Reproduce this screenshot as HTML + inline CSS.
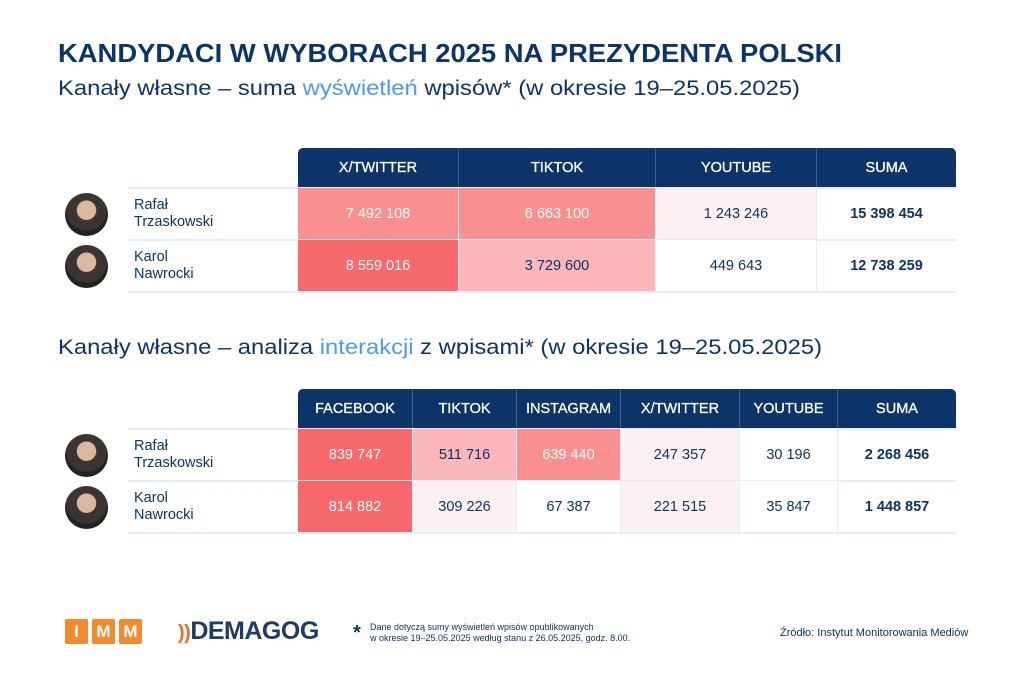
<!DOCTYPE html>
<html><head><meta charset="utf-8"><style>
body{margin:0;width:1024px;height:683px;background:#fff;font-family:"Liberation Sans",sans-serif;position:relative;overflow:hidden;color:#0d3468}
.abs{position:absolute}
.hdr{position:absolute;background:#0d3468;color:#fff;font-size:14.5px;font-weight:normal;display:flex;align-items:center;justify-content:center;box-sizing:border-box;border-right:1px solid #3d5f8f;-webkit-text-stroke:0.3px #fff}
.cell{position:absolute;display:flex;align-items:center;justify-content:center;font-size:14.5px;box-sizing:border-box;border-right:1px solid #e3ecf8}
.name{position:absolute;font-size:14.5px;line-height:17px;color:#0d3468}
.line{position:absolute;height:2px;background:#e3ecf8}
.av{position:absolute;width:43px;height:43px;border-radius:50%;background:radial-gradient(circle at 50% 40%,#d9b8a0 0 28%,#3b3430 30% 60%,#222 62%)}
</style></head><body>
<svg class="abs" style="left:0;top:0" width="1024" height="110">
<text x="58" y="62" font-size="26" font-weight="bold" fill="#0d3468" textLength="784" lengthAdjust="spacingAndGlyphs" font-family="Liberation Sans">KANDYDACI W WYBORACH 2025 NA PREZYDENTA POLSKI</text>
<text x="58" y="95" font-size="21" fill="#0d3468" textLength="742" lengthAdjust="spacingAndGlyphs" font-family="Liberation Sans">Kanały własne – suma <tspan fill="#4a9af2">wyświetleń</tspan> wpisów* (w okresie 19–25.05.2025)</text>
</svg>
<svg class="abs" style="left:0;top:325" width="1024" height="40">
<text x="58" y="29" font-size="21" fill="#0d3468" textLength="764" lengthAdjust="spacingAndGlyphs" font-family="Liberation Sans">Kanały własne – analiza <tspan fill="#4a9af2">interakcji</tspan> z wpisami* (w okresie 19–25.05.2025)</text>
</svg>
<div id="t1"></div>
<div id="t2"></div>

<div class="abs" style="left:65px;top:619px;display:flex;gap:4px">
<div style="width:23px;height:25px;background:#f28a2e;color:#fff;font-weight:bold;font-size:17px;text-align:center;line-height:25px;border-radius:2px">I</div>
<div style="width:23px;height:25px;background:#f28a2e;color:#fff;font-weight:bold;font-size:17px;text-align:center;line-height:25px;border-radius:2px">M</div>
<div style="width:23px;height:25px;background:#f28a2e;color:#fff;font-weight:bold;font-size:17px;text-align:center;line-height:25px;border-radius:2px">M</div>
</div>
<div class="abs" style="left:178px;top:617px;font-size:25px;font-weight:bold;color:#1d3b6b;letter-spacing:-0.5px"><span style="color:#f0692a;font-size:20px">))</span>DEMAGOG</div>
<div class="abs" style="left:353px;top:622px;font-size:20px;font-weight:bold;color:#0d3468">*</div>
<div class="abs" style="left:370px;top:622px;font-size:9px;line-height:11px;color:#0d3468">Dane dotyczą sumy wyświetleń wpisów opublikowanych<br>w okresie 19–25.05.2025 według stanu z 26.05.2025, godz. 8.00.</div>
<div class="abs" style="left:780px;top:627px;font-size:11px;color:#0d3468">Źródło: Instytut Monitorowania Mediów</div>

<script>
const names = ["Rafał<br>Trzaskowski","Karol<br>Nawrocki"];
const cols1 = ["X/TWITTER","TIKTOK","YOUTUBE"];
const rafal1 = [7492108,6663100,1243246];
const karol1 = [8559016,3729600,449643];
const cols2 = ["FACEBOOK","TIKTOK","INSTAGRAM","X/TWITTER","YOUTUBE"];
const rafal2 = [839747,511716,639440,247357,30196];
const karol2 = [814882,309226,67387,221515,35847];

function fmt(n){return String(n).replace(/\B(?=(\d{3})+(?!\d))/g," ");}
function shade(v,max){const r=v/max;
  if(r>0.95)return["#f7696c","#fff"];
  if(r>0.72)return["#f8908f","#fff"];
  if(r>0.4)return["#fab6b8","#0d3468"];
  if(r>0.12)return["#fdf0f3","#0d3468"];
  return["#ffffff","#0d3468"];}
function build(rootId,cols,rows,xs,top){
  const root=document.getElementById(rootId);
  const hh=40,rh=52;
  const all=cols.concat(["SUMA"]);
  const max=Math.max(...rows.flat());
  all.forEach((c,i)=>{const d=document.createElement('div');d.className='hdr';
    
    
    d.style.left=xs[i]+'px';d.style.top=top+'px';d.style.width=(xs[i+1]-xs[i])+'px';d.style.height=hh+'px';
    if(i==0)d.style.borderTopLeftRadius='5px';if(i==all.length-1){d.style.borderTopRightRadius='5px';d.style.borderRight='none';}
    d.textContent=c;root.appendChild(d);});
  rows.forEach((r,ri)=>{const y=top+hh+ri*rh;
    const ln=document.createElement('div');ln.className='line';
    
    
    ln.style.left='128px';ln.style.width=(xs[xs.length-1]-128)+'px';ln.style.top=(y-1)+'px';root.appendChild(ln);
    const av=document.createElement('div');av.className='av';
    
    
    av.style.left='65px';av.style.top=(y+5)+'px';root.appendChild(av);
    const nm=document.createElement('div');nm.className='name';
    
    
    nm.style.left='134px';nm.style.top=(y+9)+'px';nm.innerHTML=names[ri];root.appendChild(nm);
    const vals=r.concat([r.reduce((a,b)=>a+b,0)]);
    vals.forEach((v,ci)=>{const c=document.createElement('div');c.className='cell';
      
      
      c.style.left=xs[ci]+'px';c.style.top=y+'px';c.style.width=(xs[ci+1]-xs[ci])+'px';c.style.height=(rh-1)+'px';
      if(ci<r.length){const s=shade(v,max);c.style.background=s[0];c.style.color=s[1];}
      else{c.style.fontWeight='bold';c.style.color='#0d3468';c.style.borderRight='none';}
      c.textContent=fmt(v);root.appendChild(c);});
  });
  const ln=document.createElement('div');ln.className='line';
  
  
  ln.style.left='128px';ln.style.width=(xs[xs.length-1]-128)+'px';ln.style.top=(top+hh+rows.length*rh-1)+'px';root.appendChild(ln);
}
build('t1',cols1,[rafal1,karol1],[298,459,656,817,956],148);
build('t2',cols2,[rafal2,karol2],[298,413,517,621,740,838,956],389);
</script>
</body></html>
